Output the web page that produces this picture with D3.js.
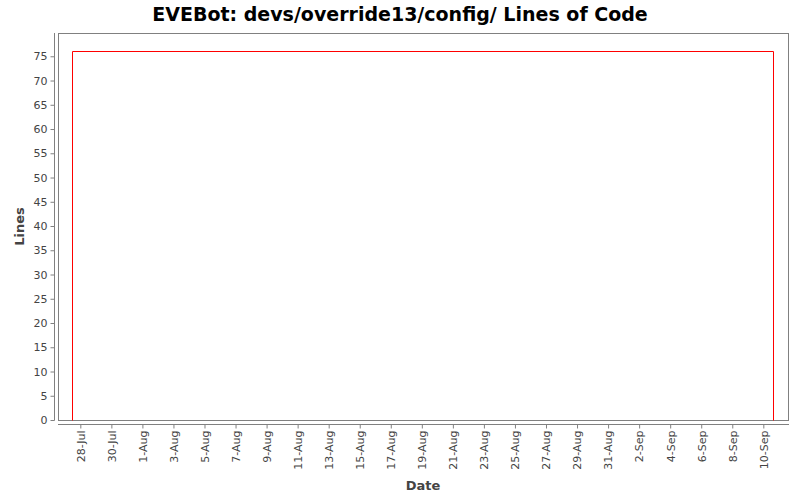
<!DOCTYPE html>
<html>
<head>
<meta charset="utf-8">
<script src="https://cdn.jsdelivr.net/npm/d3@7"></script>
<style>
  body { margin: 0; background: #fff; }
  svg { display: block; }
</style>
</head>
<body>
<svg id="chart" width="800" height="500"></svg>
<script>
const title = "EVEBot: devs/override13/config/ Lines of Code";
const xLabel = "Date";
const yLabel = "Lines";
// series: dates and line counts
const dates = ["2008-07-27T11:40", "2008-07-27T11:40", "2008-09-10T15:36", "2008-09-10T15:36"];
const lines = [0, 76, 76, 0];
const xDomain = ["2008-07-26T13:30", "2008-09-11T14:10"];
const yDomain = [0, 79.8];
const yTicks = [0, 5, 10, 15, 20, 25, 30, 35, 40, 45, 50, 55, 60, 65, 70, 75];
const xTickDates = ["2008-07-28", "2008-07-30", "2008-08-01", "2008-08-03", "2008-08-05", "2008-08-07",
  "2008-08-09", "2008-08-11", "2008-08-13", "2008-08-15", "2008-08-17", "2008-08-19", "2008-08-21",
  "2008-08-23", "2008-08-25", "2008-08-27", "2008-08-29", "2008-08-31", "2008-09-02", "2008-09-04",
  "2008-09-06", "2008-09-08", "2008-09-10"];
const xTickLabels = ["28-Jul", "30-Jul", "1-Aug", "3-Aug", "5-Aug", "7-Aug", "9-Aug", "11-Aug", "13-Aug",
  "15-Aug", "17-Aug", "19-Aug", "21-Aug", "23-Aug", "25-Aug", "27-Aug", "29-Aug", "31-Aug", "2-Sep",
  "4-Sep", "6-Sep", "8-Sep", "10-Sep"];

const parse = d3.timeParse("%Y-%m-%dT%H:%M");
const parseDay = d3.timeParse("%Y-%m-%d");
const data = dates.map((d, i) => ({ date: parse(d), value: lines[i] }));

const plot = { left: 58, right: 788, top: 33, bottom: 420 };
const svg = d3.select("#chart");
const font = "'DejaVu Sans', sans-serif";

const x = d3.scaleTime().domain(xDomain.map(parse)).range([plot.left, plot.right]);
const y = d3.scaleLinear().domain(yDomain).range([plot.bottom, plot.top]);

// title
svg.append("text").attr("x", 400).attr("y", 21).attr("text-anchor", "middle")
  .attr("font-family", font).attr("font-weight", "bold").attr("font-size", 19)
  .attr("fill", "#000").text(title);

// plot background & outline
svg.append("rect").attr("x", plot.left + 0.5).attr("y", plot.top + 0.5)
  .attr("width", plot.right - plot.left).attr("height", plot.bottom - plot.top)
  .attr("fill", "#fff").attr("stroke", "#808080").attr("stroke-width", 1);

// y axis
const yAxis = d3.axisLeft(y).tickValues(yTicks).tickSize(4).tickPadding(3);
const gy = svg.append("g").attr("transform", `translate(${plot.left - 4 + 0.5},0)`).call(yAxis);
gy.select(".domain").attr("stroke", "#808080").attr("d", `M-0,${plot.top}V${plot.bottom + 0.5}`);
gy.selectAll(".tick line").attr("stroke", "#808080");
gy.selectAll(".tick text").attr("font-family", font).attr("font-size", 11).attr("fill", "#444");

// x axis
const xAxis = d3.axisBottom(x).tickValues(xTickDates.map(parseDay))
  .tickFormat((d, i) => xTickLabels[i]).tickSize(4).tickPadding(3);
const gx = svg.append("g").attr("transform", `translate(0,${plot.bottom + 4 + 0.5})`).call(xAxis);
gx.select(".domain").attr("stroke", "#808080").attr("d", `M${plot.left},0H${plot.right + 1}`);
gx.selectAll(".tick line").attr("stroke", "#808080");
gx.selectAll(".tick text").attr("font-family", font).attr("font-size", 11).attr("fill", "#444")
  .attr("text-anchor", "end").attr("dy", "0.35em")
  .attr("transform", "translate(0,6) rotate(-90)")
  .attr("x", 0).attr("y", 0);

// axis labels
svg.append("text").attr("x", (plot.left + plot.right) / 2).attr("y", 490).attr("text-anchor", "middle")
  .attr("font-family", font).attr("font-weight", "bold").attr("font-size", 13).attr("fill", "#444")
  .text(xLabel);
svg.append("text").attr("transform", `translate(24,${(plot.top + plot.bottom) / 2}) rotate(-90)`)
  .attr("text-anchor", "middle")
  .attr("font-family", font).attr("font-weight", "bold").attr("font-size", 13).attr("fill", "#444")
  .text(yLabel);

// line
const line = d3.line().x(d => Math.round(x(d.date)) + 0.5).y(d => Math.round(y(d.value)) + 0.5);
svg.append("path").datum(data).attr("d", line).attr("fill", "none")
  .attr("stroke", "#ff0000").attr("stroke-width", 1);
</script>
</body>
</html>
